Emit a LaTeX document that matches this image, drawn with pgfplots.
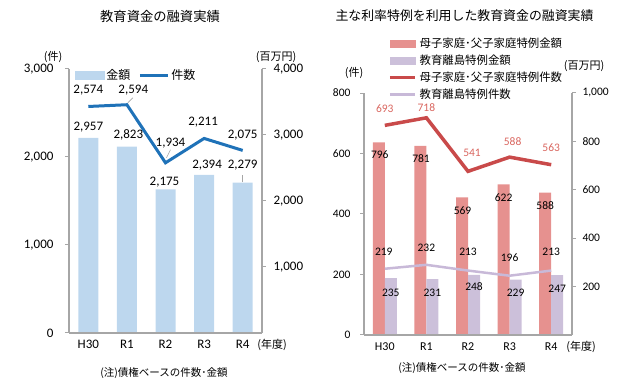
\documentclass[border=0pt]{standalone}
\usepackage{pgfplots}
\pgfplotsset{compat=1.18}
\usepackage{fontspec}
\setmainfont{Carlito}
\newfontfamily\jp{Noto Sans CJK JP}
\definecolor{axisgray}{HTML}{A6A6A6}
\definecolor{barblue}{HTML}{BDD7EE}
\definecolor{blueline}{HTML}{1F72B8}
\definecolor{pinkbar}{HTML}{E6918F}
\definecolor{purplebar}{HTML}{CCC0DA}
\definecolor{redline}{HTML}{C94A4A}
\definecolor{purpleline}{HTML}{C8B9D8}
\definecolor{redtext}{HTML}{D9665F}
\pgfplotsset{
  base/.style={
    scale only axis, anchor=south west,
    xmin=-0.5, xmax=4.5,
    axis line style={draw=axisgray, line width=1.2pt},
    tick style={draw=axisgray, line width=1pt},
    tick align=outside, major tick length=4pt,
    /pgf/number format/assume math mode=true,
    /pgf/number format/1000 sep={,},
    clip=false,
  },
  lft/.style={base, at={(69pt,49pt)}, width=193pt, height=264pt,
    ticklabel style={font=\fontsize{13}{13}\selectfont}},
  rgt/.style={base, at={(364pt,47pt)}, width=208pt, height=242pt,
    ticklabel style={font=\fontsize{11.5}{11.5}\selectfont}},
}
\newcommand{\lf}{\fontsize{13}{13}\selectfont}
\newcommand{\rf}{\fontsize{11.5}{11.5}\selectfont}
\begin{document}
\begin{tikzpicture}[x=1pt,y=1pt]
\useasboundingbox (0,0) rectangle (639,382);
% ---------------- left chart ----------------
\begin{axis}[lft, ymin=0, ymax=4000, ytick={1000,2000,3000,4000},
  axis y line*=right, axis x line=none,
  yticklabel style={xshift=4pt}]
\addplot[ybar, bar width=20pt, fill=barblue, draw=none] coordinates {(0,2957)(1,2823)(2,2175)(3,2394)(4,2279)};
\node[font=\lf, xshift=0pt, yshift=11pt] at (axis cs:0,2957) {2,957};
\node[font=\lf, xshift=1.4pt, yshift=11.7pt] at (axis cs:1,2823) {2,823};
\node[font=\lf, xshift=-1pt, yshift=7.6pt] at (axis cs:2,2175) {2,175};
\node[font=\lf, xshift=3pt, yshift=10pt] at (axis cs:3,2394) {2,394};
\node[font=\lf, xshift=0pt, yshift=17.6pt] at (axis cs:4,2279) {2,279};
\draw[axisgray, line width=0.6pt] ([yshift=0.5pt]axis cs:4,2279) -- ([yshift=7.5pt]axis cs:4,2279);
\end{axis}
\begin{axis}[lft, ymin=0, ymax=3000, ytick={0,1000,2000,3000},
  axis y line*=left, axis x line*=bottom,
  xtick={0,1,2,3,4}, xticklabels={H30,R1,R2,R3,R4}, xtick style={draw=none},
  yticklabel style={xshift=-8pt},
  legend columns=2,
  legend style={at={(0.03,0.977)}, anchor=west, draw=none, fill=none, inner sep=0pt,
    font=\jp\fontsize{12}{12}\selectfont,
    /tikz/every even column/.append style={column sep=6pt}},
  ]
\addlegendimage{legend image code/.code={\fill[barblue] (0pt,-4pt) rectangle (29pt,4pt);}}
\addlegendentry{金額}
\addplot[blueline, line width=3pt, mark=none,
  legend image code/.code={\draw[blueline, line width=3pt] (0pt,0pt) -- (28pt,0pt);}]
  coordinates {(0,2574)(1,2594)(2,1934)(3,2211)(4,2075)};
\addlegendentry{件数}
\node[font=\lf, yshift=16.5pt] at (axis cs:0,2574) {2,574};
\node[font=\lf, xshift=6.4pt, yshift=14.7pt] at (axis cs:1,2594) {2,594};
\node[font=\lf, xshift=5pt, yshift=20pt] at (axis cs:2,1934) {1,934};
\node[font=\lf, xshift=-1pt, yshift=16.4pt] at (axis cs:3,2211) {2,211};
\node[font=\lf, yshift=15.4pt] at (axis cs:4,2075) {2,075};
\draw[axisgray, line width=0.6pt] ([xshift=1pt,yshift=2pt]axis cs:1,2594) -- ([xshift=6pt,yshift=7pt]axis cs:1,2594);
\draw[axisgray, line width=0.6pt] ([xshift=1pt,yshift=5pt]axis cs:2,1934) -- ([xshift=5pt,yshift=13pt]axis cs:2,1934);
\end{axis}
\node[font=\jp\fontsize{13.3}{13.3}\selectfont] at (160,366) {教育資金の融資実績};
\node[font=\jp\fontsize{11}{11}\selectfont] at (53,325) {(件)};
\node[font=\jp\fontsize{11}{11}\selectfont] at (276,325) {(百万円)};
\node[font=\jp\fontsize{11}{11}\selectfont] at (272,37) {(年度)};
\node[font=\jp\fontsize{10.5}{10.5}\selectfont] at (164,9) {(注)債権ベースの件数･金額};
% ---------------- right chart ----------------
\begin{axis}[rgt, ymin=0, ymax=1000, ytick={200,400,600,800,1000},
  axis y line*=right, axis x line=none,
  yticklabel style={xshift=3pt}]
\addplot[ybar, bar width=12pt, bar shift=-6pt, fill=pinkbar, draw=none] coordinates {(0,796)(1,781)(2,569)(3,622)(4,588)};
\addplot[ybar, bar width=12pt, bar shift=6pt, fill=purplebar, draw=none] coordinates {(0,235)(1,231)(2,248)(3,229)(4,247)};
\node[font=\rf, xshift=-5pt, yshift=-12.6pt] at (axis cs:0,796) {796};
\node[font=\rf, xshift=-5.4pt, yshift=-13pt] at (axis cs:1,781) {781};
\node[font=\rf, xshift=-5.5pt, yshift=-13.7pt] at (axis cs:2,569) {569};
\node[font=\rf, xshift=-6pt, yshift=-13.5pt] at (axis cs:3,622) {622};
\node[font=\rf, xshift=-6pt, yshift=-13.3pt] at (axis cs:4,588) {588};
\node[font=\rf, xshift=6pt, yshift=-15pt] at (axis cs:0,235) {235};
\node[font=\rf, xshift=6pt, yshift=-14pt] at (axis cs:1,231) {231};
\node[font=\rf, xshift=6pt, yshift=-12pt] at (axis cs:2,248) {248};
\node[font=\rf, xshift=6pt, yshift=-13.4pt] at (axis cs:3,229) {229};
\node[font=\rf, xshift=6pt, yshift=-14pt] at (axis cs:4,247) {247};
\end{axis}
\begin{axis}[rgt, ymin=0, ymax=800, ytick={0,200,400,600,800},
  axis y line*=left, axis x line*=bottom,
  xtick={0,1,2,3,4}, xticklabels={H30,R1,R2,R3,R4}, xtick style={draw=none},
  xticklabel style={font=\fontsize{12}{12}\selectfont},
  yticklabel style={xshift=-6pt},
  legend cell align=left,
  legend style={at={(0.115,1.236)}, anchor=north west, draw=none, fill=none, inner sep=0pt,
    font=\jp\fontsize{11.4}{11.4}\selectfont, row sep=1.8pt,
    /tikz/every odd column/.append style={column sep=1pt}},
  ]
\addlegendimage{legend image code/.code={\fill[pinkbar] (0pt,-3.5pt) rectangle (25pt,3.5pt);}}
\addlegendentry{母子家庭･父子家庭特例金額}
\addlegendimage{legend image code/.code={\fill[purplebar] (0pt,-3.5pt) rectangle (25pt,3.5pt);}}
\addlegendentry{教育離島特例金額}
\addplot[redline, line width=3.5pt, mark=none,
  legend image code/.code={\draw[redline, line width=3.5pt] (0pt,0pt) -- (25pt,0pt);}]
  coordinates {(0,693)(1,718)(2,541)(3,588)(4,563)};
\addlegendentry{母子家庭･父子家庭特例件数}
\addplot[purpleline, line width=2.5pt, mark=none,
  legend image code/.code={\draw[purpleline, line width=2.5pt] (0pt,0pt) -- (25pt,0pt);}]
  coordinates {(0,219)(1,232)(2,213)(3,196)(4,213)};
\addlegendentry{教育離島特例件数}
\node[font=\rf, text=redtext, yshift=17pt] at (axis cs:0,693) {693};
\node[font=\rf, text=redtext, yshift=10pt] at (axis cs:1,718) {718};
\node[font=\rf, text=redtext, xshift=4pt, yshift=19pt] at (axis cs:2,541) {541};
\node[font=\rf, text=redtext, xshift=3pt, yshift=16pt] at (axis cs:3,588) {588};
\node[font=\rf, text=redtext, yshift=17pt] at (axis cs:4,563) {563};
\node[font=\rf, xshift=-1pt, yshift=17pt] at (axis cs:0,219) {219};
\node[font=\rf, yshift=17pt] at (axis cs:1,232) {232};
\node[font=\rf, yshift=18.6pt] at (axis cs:2,213) {213};
\node[font=\rf, yshift=17.7pt] at (axis cs:3,196) {196};
\node[font=\rf, yshift=18.6pt] at (axis cs:4,213) {213};
\end{axis}
\node[font=\jp\fontsize{12.9}{12.9}\selectfont] at (464.5,366) {主な利率特例を利用した教育資金の融資実績};
\node[font=\jp\fontsize{11}{11}\selectfont] at (354,309) {(件)};
\node[font=\jp\fontsize{11}{11}\selectfont] at (584,316) {(百万円)};
\node[font=\jp\fontsize{11}{11}\selectfont] at (581,35) {(年度)};
\node[font=\jp\fontsize{10.5}{10.5}\selectfont] at (462,14) {(注)債権ベースの件数･金額};
\end{tikzpicture}
\end{document}
